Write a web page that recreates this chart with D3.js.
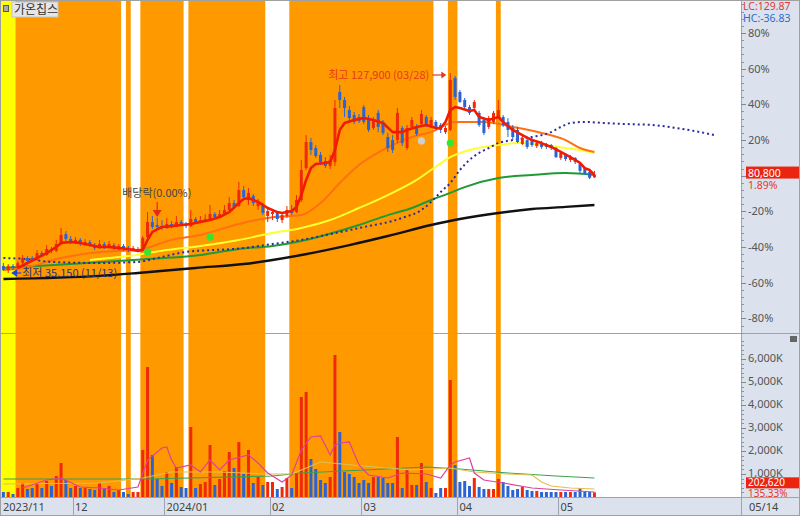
<!DOCTYPE html>
<html><head><meta charset="utf-8">
<script src="https://cdn.jsdelivr.net/npm/d3@7"></script>
<style>
html,body{margin:0;padding:0;background:#fff;}
svg{display:block;font-family:"Noto Sans","Noto Sans CJK KR",sans-serif;}
</style></head><body>
<svg id="chart" width="800" height="516"></svg>
<script>
// ---------------- DATA ----------------
const stockName = "가온칩스";
const monthKeys = ["2023/11","2023/12","2024/01","2024/02","2024/03","2024/04","2024/05"];
const monthDays = [
  [10,13,14,15,16,17,20,21,22,23,24,27,28,29,30],
  [1,4,5,6,7,8,11,12,13,14,15,18,19,20,21,22,26,27,28],
  [2,3,4,5,8,9,10,11,12,15,16,17,18,19,22,23,24,25,26,29,30,31],
  [1,2,5,6,7,8,13,14,15,16,19,20,21,22,23,26,27,28,29],
  [4,5,6,7,8,11,12,13,14,15,18,19,20,21,22,25,26,27,28,29],
  [1,2,3,4,5,8,9,11,12,15,16,17,18,19,22,23,24,25,26,29,30],
  [2,3,7,8,9,10,13,14]
];
const opens = [
  38400,36500,38400,37500,39800,42100,42100,41200,44400,43500,
  46300,45400,48600,53200,50900,49500,50500,48600,49500,48100,
  46700,48600,47200,48100,46700,47700,46700,45800,45800,46300,
  51800,58800,57400,56900,56000,57900,56900,58800,57900,56900,
  60200,58800,59300,60200,62500,61100,62500,64400,67600,66200,
  73600,69000,70900,66200,66700,61600,62500,63000,59700,61600,
  64400,63400,69000,83800,95900,93100,89900,87100,84800,86600,
  119100,115400,110700,108400,107500,112100,107000,102400,109400,105200,
  98200,96800,96800,102400,93100,102900,103300,104200,107500,103300,
  105200,103800,100500,101500,125600,119100,115400,112100,111700,109400,
  106100,102900,105200,107500,107500,105200,102400,101500,95000,96800,
  96800,94000,95400,95000,94500,93100,88500,90300,87600,88500,
  85700,83800,82000,79500
];
const highs = [
  39800,39300,39300,40700,43500,43000,43000,45800,45400,48100,
  47200,50500,56000,54600,52300,51800,51400,50900,50500,49100,
  50500,49500,50000,49100,48600,48600,47700,47700,47200,52300,
  63400,61600,60700,59700,60700,59300,61600,59700,58800,64400,
  61100,61600,62500,66700,63400,64400,66700,70400,69000,77400,
  75500,74600,71800,69500,67600,65800,64800,63900,63400,66200,
  66700,71300,87600,99100,97800,94500,91300,88900,89900,115400,
  122300,116800,112600,109800,108900,113100,108400,107500,110700,106100,
  100100,99100,111700,103300,103800,107500,104200,110700,108400,107500,
  106100,104700,103300,127900,126500,120000,116300,113100,115400,110300,
  107000,108000,110300,115400,108400,107000,103800,102900,98700,97300,
  97800,96400,96400,95400,95000,93600,91700,90800,89900,88900,
  86200,84300,83400,82500
];
const lows = [
  36100,35150,36500,37000,39300,39800,40300,40700,42600,43000,
  44400,44900,48100,50000,48600,48600,47700,47700,47200,45800,
  46300,46300,46700,45800,45800,45400,44900,45400,44900,45800,
  51400,55600,55600,55100,55600,56000,56500,56900,56000,56500,
  57900,58300,58800,59300,60200,60700,62000,63900,64800,65800,
  69500,66700,66200,64400,62000,58800,59700,58800,58300,60700,
  62000,63000,68100,82900,89900,88500,85200,83800,83400,84800,
  111700,107500,105200,104200,104700,104200,100500,101500,100500,99100,
  91300,90800,95400,94000,92200,102400,98700,103300,102900,102400,
  101500,100100,99600,101000,115400,114000,111200,108400,110700,102900,
  99100,101900,104200,107000,102900,98200,96800,95400,94500,92700,
  93600,93100,92700,92700,92200,88500,87600,87100,86600,85700,
  81500,80600,78700,79200
];
const closes = [
  36500,38400,37500,39800,42100,40700,41200,44400,43500,46300,
  45400,48600,52800,50900,49500,50500,48600,49500,48100,46700,
  48600,47200,48600,46700,47700,46300,45800,46700,46300,51400,
  58800,56500,56500,56000,57900,56900,58800,57900,56900,60200,
  58800,59700,60200,62500,61100,62500,64400,67600,65800,73600,
  70400,72300,67600,67600,63000,63900,63400,60200,62000,64400,
  63000,69000,82900,95900,92200,89400,86600,84800,87600,111700,
  115400,111700,107000,105200,105600,105200,101500,106100,102900,100100,
  93100,92200,109400,95400,102400,106100,99600,108900,104200,106100,
  102900,101500,102400,124700,116800,114500,112100,109400,114500,103800,
  100100,107000,109400,110700,103800,101500,98200,95900,97800,93600,
  94500,95400,93600,93600,93100,88900,90800,88000,88900,86600,
  82500,81500,79300,80800
];
const volumes = [
  217000,217000,130000,391000,609000,348000,391000,609000,391000,696000,
  478000,913000,1478000,739000,391000,478000,391000,391000,348000,304000,
  609000,391000,478000,217000,304000,217000,130000,217000,217000,2043000,
  5652000,1826000,783000,478000,1087000,609000,1304000,435000,391000,3043000,
  391000,565000,652000,2261000,522000,783000,1130000,1957000,1261000,2391000,
  1000000,2043000,609000,870000,522000,652000,652000,348000,435000,826000,
  391000,1043000,4348000,4565000,1652000,1217000,739000,609000,870000,6174000,
  2826000,1087000,1000000,870000,609000,739000,609000,870000,870000,826000,
  609000,609000,2609000,391000,1174000,522000,522000,1478000,652000,391000,
  174000,391000,391000,5087000,1391000,652000,696000,478000,826000,435000,
  348000,348000,348000,783000,652000,478000,304000,348000,435000,304000,
  261000,261000,217000,217000,217000,217000,217000,217000,217000,217000,
  391000,217000,217000,202620
];
// moving averages: [day index, price]
const ma5 = [[3,37500],[5,39800],[7,42100],[9,44400],[11,47200],[12,49100],[14,49500],[16,49100],[18,48100],[20,47200],[22,47200],[24,46700],[26,46300],[28,45400],[29,45800],[30,50500],[31,54200],[33,56500],[35,56900],[37,57400],[39,57900],[41,58800],[43,59700],[45,61100],[47,63400],[49,67600],[50,69500],[51,69900],[53,68100],[55,65300],[57,63400],[58,63000],[60,63900],[61,65800],[62,71300],[63,78300],[64,83800],[65,85700],[67,86200],[68,86600],[69,92200],[70,101500],[71,104700],[73,106100],[75,107000],[77,106100],[79,104700],[81,100500],[83,100500],[84,101500],[86,102900],[88,103800],[90,102400],[91,102400],[92,105200],[93,110700],[94,112100],[95,111700],[97,110300],[98,110700],[99,107500],[101,106100],[103,107500],[104,105200],[106,101500],[108,99100],[110,96800],[112,95400],[114,93600],[116,91300],[118,88900],[120,86200],[121,83800],[122,82900],[123,80600]];
const ma20 = [[0,36500],[4,37500],[12,42100],[20,44900],[28,45800],[35,50500],[41,52800],[49,57900],[55,60700],[62,62000],[66,67600],[70,76900],[74,85200],[79,92200],[85,98200],[89,100500],[94,105200],[100,105200],[106,102900],[112,100100],[117,96800],[120,93100],[123,91300]];
const ma60 = [[18,41200],[26,43000],[34,45800],[41,47700],[49,50500],[56,53700],[62,56000],[68,59700],[74,65300],[80,71300],[86,78300],[89,82900],[93,88900],[97,92200],[103,94500],[107,95400],[112,94500],[117,93100],[120,92200],[123,90800]];
const ma120 = [[0,37500],[14,39300],[27,41200],[41,43500],[49,46300],[56,47700],[62,50000],[67,52800],[74,57400],[80,62000],[85,65300],[89,69000],[93,72300],[96,75000],[103,79200],[110,80600],[117,81500],[123,80600]];
const ma240 = [[0,32400],[20,33800],[28,35150],[40,37500],[50,39300],[56,41200],[62,43500],[72,48100],[80,52300],[89,57400],[95,60200],[103,63000],[110,64800],[117,65800],[123,66700]];
const leadSpan = [[0,42100],[5,41600],[10,40300],[20,39800],[28,40300],[32,42100],[38,44900],[50,46700],[56,48600],[62,50500],[68,53200],[74,56000],[83,60700],[87,64400],[89,68100],[91,72700],[93,76900],[95,82900],[97,87600],[99,90800],[101,93100],[103,95400],[106,96800],[110,98200],[114,100500],[116,102900],[118,104700],[121,105200],[125,104700],[130,104200],[135,103800],[140,102400],[145,100500],[148,99100]];
const volMa5 = [[4,391000],[9,739000],[12,826000],[16,435000],[20,391000],[24,304000],[28,435000],[30,1609000],[33,2130000],[34,2174000],[35,1609000],[36,1261000],[39,1391000],[41,1087000],[43,1609000],[45,1174000],[47,1609000],[51,1826000],[53,1478000],[55,1043000],[58,652000],[60,957000],[62,2043000],[64,2609000],[66,2652000],[68,1826000],[69,2261000],[70,2348000],[72,2391000],[74,1391000],[76,957000],[80,826000],[83,1043000],[88,1000000],[91,826000],[93,1391000],[94,1522000],[97,1696000],[98,1043000],[100,739000],[104,609000],[110,391000],[116,304000],[123,217000]];
const volMa20 = [[0,565000],[20,609000],[29,826000],[35,1087000],[45,1087000],[55,1000000],[60,1000000],[62,1174000],[66,1522000],[75,1348000],[85,1174000],[93,1261000],[98,1087000],[105,1000000],[110,957000],[112,652000],[114,478000],[118,391000],[123,348000]];
const volMa60 = [[0,783000],[30,783000],[56,913000],[62,1043000],[75,1174000],[88,1304000],[95,1217000],[105,1043000],[115,913000],[123,826000]];
// shaded zones (day index ranges)
const zoneFrom = [0, 3, 26, 29, 39, 60, 93, 103];
const zoneTo   = [2, 24, 26, 37, 54, 89, 94, 103];
const zoneKind = ["yellow","orange","orange","orange","orange","orange","orange","orange"];
// signal dots
const dotIdx = [30, 43, 87, 93];
const dotPrice = [44900, 51800, 96400, 95400];
const dotKind = ["buy","buy","neutral","buy"];
// labels
const pctTicks = [-80,-60,-40,-20,0,20,40,60,80];
const volTicks = [1000000,2000000,3000000,4000000,5000000,6000000];
const exDivIdx = 32;
const exDivText = "배당락(0.00%)";
const lcText = "LC:129.87", hcText = "HC:-36.83";
const dayChangePct = "1.89%", volChangePct = "135.33%";
const futureSlots = 30;

// ---------------- LAYOUT ----------------
const svg = d3.select("#chart");
const W = 800, H = 516;
const plotL = 1, plotR = 741, pTop = 0, pBot = 333, vTop = 334, vBot = 497;
const dates = [];
monthKeys.forEach((m, k) => monthDays[k].forEach(d => dates.push(m + "/" + String(d).padStart(2, "0"))));
const n = dates.length;
const x = d3.scaleBand().domain(d3.range(n + futureSlots)).range([plotL, plotR]).padding(0);
const bw = x.bandwidth();
const cx = i => x(i) + bw / 2;
const y = d3.scaleLinear().domain([7325, 161754]).range([pBot, pTop]);
const yPct = d3.scaleLinear().domain([-88.2, 98.5]).range([pBot, pTop]);
const yV = d3.scaleLinear().domain([0, 7087000]).range([vBot, vTop]);

const RED = "#f0290a", BLUE = "#2a64d4";
const axisBg = "#dbe2ed", lineCol = "#9aa4b4", txtCol = "#555";

svg.append("rect").attr("width", W).attr("height", H).attr("fill", "#fff");
// zones
const zoneCol = {yellow: "#ffff00", orange: "#ff9900"};
svg.append("g").selectAll("rect").data(zoneFrom).join("rect")
  .attr("x", (d, k) => x(d)).attr("width", (d, k) => x(zoneTo[k]) + bw - x(d))
  .attr("y", pTop).attr("height", vBot - pTop)
  .attr("fill", (d, k) => zoneCol[zoneKind[k]]);

// right panel & date bar
svg.append("rect").attr("x", plotR).attr("y", 0).attr("width", W - plotR).attr("height", H).attr("fill", axisBg);
svg.append("rect").attr("x", 0).attr("y", vBot).attr("width", W).attr("height", H - vBot).attr("fill", axisBg);

// ---------------- PRICE PANEL ----------------
const lineGen = (sc) => d3.line().x(d => cx(d[0])).y(d => sc(d[1]));
const smooth = (sc) => d3.line().x(d => cx(d[0])).y(d => sc(d[1])).curve(d3.curveMonotoneX);
const gP = svg.append("g");
gP.append("path").attr("d", smooth(y)(ma240)).attr("fill", "none").attr("stroke", "#111").attr("stroke-width", 2.4);
gP.append("path").attr("d", smooth(y)(ma120)).attr("fill", "none").attr("stroke", "#1f9a35").attr("stroke-width", 2);
gP.append("path").attr("d", smooth(y)(ma60)).attr("fill", "none").attr("stroke", "#ffff30").attr("stroke-width", 2);
gP.append("path").attr("d", smooth(y)(ma20)).attr("fill", "none").attr("stroke", "#ff6f14").attr("stroke-width", 2);
gP.append("path").attr("d", smooth(y)(leadSpan)).attr("fill", "none").attr("stroke", "#2b2b9e").attr("stroke-width", 2).attr("stroke-dasharray", "2,3");

// candles
const idx = d3.range(n);
const up = i => closes[i] >= opens[i];
const gC = svg.append("g");
gC.selectAll("line").data(idx).join("line")
  .attr("x1", i => cx(i)).attr("x2", i => cx(i))
  .attr("y1", i => y(highs[i])).attr("y2", i => y(lows[i]))
  .attr("stroke", i => up(i) ? RED : BLUE).attr("stroke-width", 1);
gC.selectAll("rect").data(idx).join("rect")
  .attr("x", i => cx(i) - 1.5).attr("width", 3)
  .attr("y", i => y(Math.max(opens[i], closes[i])))
  .attr("height", i => Math.max(1, Math.abs(y(opens[i]) - y(closes[i]))))
  .attr("fill", i => up(i) ? RED : BLUE);

svg.append("path").attr("d", lineGen(y)(ma5)).attr("fill", "none").attr("stroke", "#f21a00").attr("stroke-width", 2.6).attr("stroke-linejoin", "round");

// signal dots
svg.append("g").selectAll("circle").data(dotIdx).join("circle")
  .attr("cx", d => cx(d)).attr("cy", (d, k) => y(dotPrice[k])).attr("r", 3.6)
  .attr("fill", (d, k) => dotKind[k] === "buy" ? "#2fe82f" : "#cfcfcf");

// annotations: high / low / ex-dividend
const hiIdx = d3.maxIndex(highs), loIdx = d3.minIndex(lows);
const md = s => s.slice(5);
const fmt = d3.format(",");
const ann = svg.append("g").style("font-family", "'Noto Sans CJK KR','Noto Sans',sans-serif").style("font-size", "11px");
const hx = cx(hiIdx) - 4, hy = y(highs[hiIdx]) + 2;
ann.append("text").attr("x", hx - 17).attr("y", hy + 4).attr("text-anchor", "end").attr("fill", "#e8381a")
  .text(`최고 ${fmt(highs[hiIdx])} (${md(dates[hiIdx])})`);
ann.append("line").attr("x1", hx - 14).attr("x2", hx - 4).attr("y1", hy).attr("y2", hy).attr("stroke", "#e8381a").attr("stroke-width", 1.2);
ann.append("path").attr("d", `M${hx - 5},${hy - 3.5}L${hx},${hy}L${hx - 5},${hy + 3.5}Z`).attr("fill", "#e8381a");

const lx = cx(loIdx) + 3, ly = y(lows[loIdx]);
ann.append("path").attr("d", `M${lx},${ly}L${lx + 6},${ly - 4}L${lx + 6},${ly + 4}Z`).attr("fill", "#2146d8");
ann.append("line").attr("x1", lx + 5).attr("x2", lx + 10).attr("y1", ly).attr("y2", ly).attr("stroke", "#2146d8").attr("stroke-width", 1.2);
ann.append("text").attr("x", lx + 11).attr("y", ly + 4).attr("fill", "#27307a")
  .text(`최저 ${fmt(lows[loIdx])} (${md(dates[loIdx])})`);

const ex = cx(exDivIdx), ey = y(highs[exDivIdx]) - 1;
ann.append("text").attr("x", ex - 35).attr("y", ey - 20).attr("fill", "#444").text(exDivText);
ann.append("line").attr("x1", ex).attr("x2", ex).attr("y1", ey - 15).attr("y2", ey - 6).attr("stroke", "#e8281a").attr("stroke-width", 1.2);
ann.append("path").attr("d", `M${ex - 4.5},${ey - 7}L${ex + 4.5},${ey - 7}L${ex},${ey}Z`).attr("fill", "#e8281a");

// ---------------- VOLUME PANEL ----------------
const gV = svg.append("g");
gV.selectAll("rect").data(idx).join("rect")
  .attr("x", i => cx(i) - 1.5).attr("width", 3)
  .attr("y", i => yV(volumes[i])).attr("height", i => vBot - yV(volumes[i]))
  .attr("fill", i => up(i) ? RED : BLUE);
gV.append("path").attr("d", lineGen(yV)(volMa60)).attr("fill", "none").attr("stroke", "#3aa050").attr("stroke-width", 1.2);
gV.append("path").attr("d", lineGen(yV)(volMa20)).attr("fill", "none").attr("stroke", "#e0c050").attr("stroke-width", 1.2);
gV.append("path").attr("d", lineGen(yV)(volMa5)).attr("fill", "none").attr("stroke", "#e0409a").attr("stroke-width", 1.2);

// ---------------- FRAME LINES ----------------
svg.append("line").attr("x1", 0).attr("x2", W).attr("y1", pBot + 0.5).attr("y2", pBot + 0.5).attr("stroke", lineCol);
svg.append("line").attr("x1", 0).attr("x2", W).attr("y1", vBot + 0.5).attr("y2", vBot + 0.5).attr("stroke", lineCol);
svg.append("line").attr("x1", plotR + 0.5).attr("x2", plotR + 0.5).attr("y1", 0).attr("y2", H).attr("stroke", lineCol);
svg.append("rect").attr("x", 0.5).attr("y", 0.5).attr("width", W - 1).attr("height", H - 1).attr("fill", "none").attr("stroke", "#a0a0a0");

// ---------------- RIGHT AXES ----------------
const lastC = closes[n - 1], lastV = volumes[n - 1];
const py = y(lastC) - 2;
const vy = yV(lastV) - 10;
const ax = svg.append("g").style("font-size", "11px").attr("fill", txtCol);
const minorPct = d3.range(-88, 99, 4).filter(v => v % 20 !== 0);
ax.selectAll("line.mp").data(minorPct).join("line").attr("class", "mp")
  .attr("x1", plotR).attr("x2", plotR + 3).attr("y1", d => Math.round(yPct(d)) + 0.5).attr("y2", d => Math.round(yPct(d)) + 0.5).attr("stroke", "#8c96a8");
ax.selectAll("line.Mp").data(pctTicks).join("line").attr("class", "Mp")
  .attr("x1", plotR).attr("x2", plotR + 5).attr("y1", d => Math.round(yPct(d)) + 0.5).attr("y2", d => Math.round(yPct(d)) + 0.5).attr("stroke", "#7d879a");
// labels hidden behind the current-price box are not drawn (as in the reference)
ax.selectAll("text.p").data(pctTicks.filter(d => Math.abs(yPct(d) - py) > 12)).join("text").attr("class", "p")
  .attr("x", plotR + 7).attr("y", d => yPct(d) + 4).text(d => d + "%");

const minorVol = d3.range(200000, 7000001, 200000).filter(v => v % 1000000 !== 0);
ax.selectAll("line.mv").data(minorVol).join("line").attr("class", "mv")
  .attr("x1", plotR).attr("x2", plotR + 3).attr("y1", d => Math.round(yV(d)) + 0.5).attr("y2", d => Math.round(yV(d)) + 0.5).attr("stroke", "#8c96a8");
ax.selectAll("line.Mv").data(volTicks).join("line").attr("class", "Mv")
  .attr("x1", plotR).attr("x2", plotR + 5).attr("y1", d => Math.round(yV(d)) + 0.5).attr("y2", d => Math.round(yV(d)) + 0.5).attr("stroke", "#7d879a");
ax.selectAll("text.v").data(volTicks).join("text").attr("class", "v")
  .attr("x", plotR + 7).attr("y", d => yV(d) + 3).text(d => fmt(d / 1000) + "K");

// current price / volume boxes
ax.append("rect").attr("x", plotR + 5).attr("y", py - 6).attr("width", 53).attr("height", 12).attr("fill", "#ea2410");
ax.append("text").attr("x", plotR + 7).attr("y", py + 4).attr("fill", "#fff").style("font-size", "10.5px").text(fmt(lastC));
ax.append("text").attr("x", plotR + 7).attr("y", py + 16).attr("fill", "#e8382a").style("font-size", "10.5px").text(dayChangePct);
ax.append("rect").attr("x", plotR + 5).attr("y", vy - 5).attr("width", 53).attr("height", 11).attr("fill", "#ea2410");
ax.append("text").attr("x", plotR + 7).attr("y", vy + 4).attr("fill", "#fff").style("font-size", "10px").text(fmt(lastV));
ax.append("text").attr("x", plotR + 7).attr("y", vy + 15).attr("fill", "#e8382a").style("font-size", "10px").text(volChangePct);
svg.append("rect").attr("x", 790).attr("y", 336).attr("width", 7).attr("height", 6).attr("fill", "#666");

ax.append("text").attr("x", plotR + 2).attr("y", 10).attr("fill", "#e0383a").style("font-size", "10.5px").text(lcText);
ax.append("text").attr("x", plotR + 2).attr("y", 21.5).attr("fill", "#2f6bd0").style("font-size", "10.5px").text(hcText);

// ---------------- DATE AXIS ----------------
const monthStarts = idx.filter(i => i === 0 || dates[i].slice(0, 7) !== dates[i - 1].slice(0, 7));
const dAx = svg.append("g").style("font-size", "11px").attr("fill", "#444");
dAx.selectAll("line").data(monthStarts.filter(i => i > 0)).join("line")
  .attr("x1", i => Math.round(x(i)) + 0.5).attr("x2", i => Math.round(x(i)) + 0.5)
  .attr("y1", vBot).attr("y2", H).attr("stroke", lineCol);
dAx.selectAll("text").data(monthStarts).join("text")
  .attr("x", i => x(i) + 2).attr("y", 511)
  .text(i => (i === 0 || dates[i].slice(0, 4) !== dates[i - 1].slice(0, 4)) ? dates[i].slice(0, 7) : dates[i].slice(5, 7));
dAx.append("text").attr("x", plotR + 8).attr("y", 511).text(md(dates[n - 1]));

// ---------------- TITLE ----------------
svg.append("rect").attr("x", 3.5).attr("y", 5.5).attr("width", 5).attr("height", 6).attr("fill", "#aaa").attr("stroke", "#555");
svg.append("rect").attr("x", 12).attr("y", 2).attr("width", 46).attr("height", 15).attr("fill", "#e6e6e6").attr("stroke", "#c4c4c4");
svg.append("text").attr("x", 14).attr("y", 14).style("font-family", "'Noto Sans CJK KR',sans-serif").style("font-size", "12px").attr("fill", "#333").text(stockName);
</script>
</body></html>
